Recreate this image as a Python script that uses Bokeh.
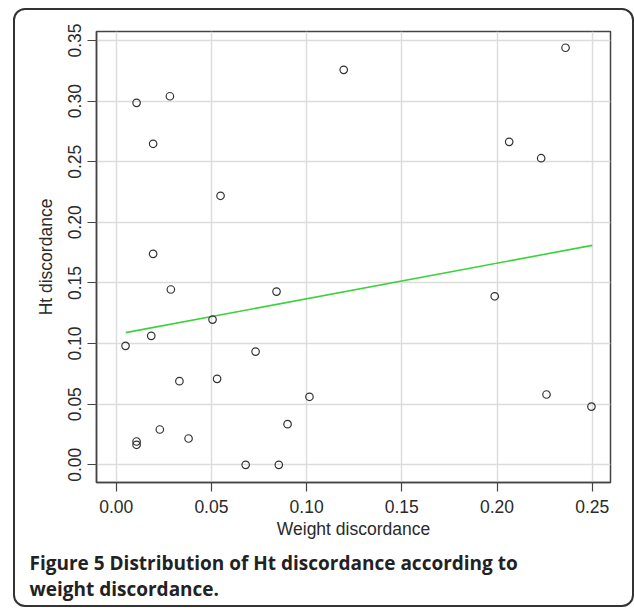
from bokeh.plotting import figure
from bokeh.models import Range1d, FixedTicker, Title, InlineStyleSheet
from bokeh.embed import file_html
from bokeh.resources import INLINE

# data
weight_disc = [0.0107, 0.0282, 0.0194, 0.0548, 0.0194, 0.0287, 0.0842,
               0.1195, 0.2360, 0.2064, 0.2232, 0.1988,
               0.0506, 0.0184, 0.0049, 0.0732, 0.0332, 0.0530, 0.1015,
               0.0900, 0.0229, 0.0380, 0.0107, 0.0107, 0.0680, 0.0854,
               0.2260, 0.2496]
ht_disc = [0.2986, 0.3040, 0.2648, 0.2219, 0.1740, 0.1446, 0.1429,
           0.3258, 0.3440, 0.2664, 0.2529, 0.1390,
           0.1198, 0.1064, 0.0981, 0.0934, 0.0690, 0.0709, 0.0561,
           0.0335, 0.0291, 0.0217, 0.0192, 0.0165, 0.0000, 0.0000,
           0.0580, 0.0480]
fit_x = [0.005, 0.25]
fit_y = [0.109, 0.181]
x_ticks = [0.00, 0.05, 0.10, 0.15, 0.20, 0.25]
y_ticks = [0.00, 0.05, 0.10, 0.15, 0.20, 0.25, 0.30, 0.35]
caption = ["Figure 5 Distribution of Ht discordance according to",
           "weight discordance."]

W, H = 634, 608
ML, MT, MR, MB = 96, 31, 24, 126
p = figure(width=W, height=H, output_backend="svg", toolbar_location=None,
           x_range=Range1d(-0.01035, 0.25961), y_range=Range1d(-0.0146, 0.35742),
           min_border_left=ML, min_border_top=MT, min_border_right=MR,
           min_border_bottom=MB, x_axis_label="Weight discordance",
           y_axis_label="Ht discordance")
p.background_fill_color = "white"
p.border_fill_color = "white"
p.outline_line_color = "#444444"
p.outline_line_width = 1.5
p.outline_line_alpha = 1.0

p.xaxis.ticker = FixedTicker(ticks=x_ticks)
p.yaxis.ticker = FixedTicker(ticks=y_ticks)
p.xaxis.major_label_overrides = {t: f"{t:.2f}" for t in x_ticks}
p.yaxis.major_label_overrides = {t: f"{t:.2f}" for t in y_ticks}
p.yaxis.major_label_orientation = "vertical"
for ax in (p.xaxis, p.yaxis):
    ax.axis_line_color = "#444444"
    ax.axis_line_width = 1.5
    ax.major_tick_line_color = "#444444"
    ax.major_tick_line_width = 1.2
    ax.major_tick_out = 9
    ax.major_tick_in = 0
    ax.minor_tick_line_color = None
    ax.major_label_text_font = "Liberation Sans"
    ax.major_label_text_font_size = "17.5px"
    ax.major_label_text_color = "#2a2a2a"
    ax.axis_label_text_font = "Liberation Sans"
    ax.axis_label_text_font_size = "17.5px"
    ax.axis_label_text_font_style = "normal"
    ax.axis_label_text_color = "#2a2a2a"
p.xaxis.major_label_standoff = 8
p.xaxis.axis_label_standoff = 3
p.yaxis.major_label_standoff = 6
p.yaxis.axis_label_standoff = 10

p.grid.grid_line_color = "#dcdcdc"
p.grid.grid_line_width = 1.5

p.line(fit_x, fit_y, line_color="#3cd23c", line_width=1.6)
p.scatter(weight_disc, ht_disc, marker="circle", size=7.5, fill_color=None,
          line_color="#333333", line_width=1.2)

for i, t in enumerate(caption):
    p.add_layout(Title(text=t, align="left", offset=29 - ML,
                       text_font="Open Sans", text_font_style="bold",
                       text_font_size="19px", text_color="#222222",
                       standoff=12 if i == 0 else -16), "below")

# outer rounded frame of the figure panel
p.stylesheets = [InlineStyleSheet(css=(
    ":host::after{content:'';position:absolute;left:13px;top:8px;"
    "width:621px;height:599px;box-sizing:border-box;"
    "border:2px solid #333;border-radius:12px;pointer-events:none;}"))]

open("out.html", "w").write(file_html(p, INLINE))
